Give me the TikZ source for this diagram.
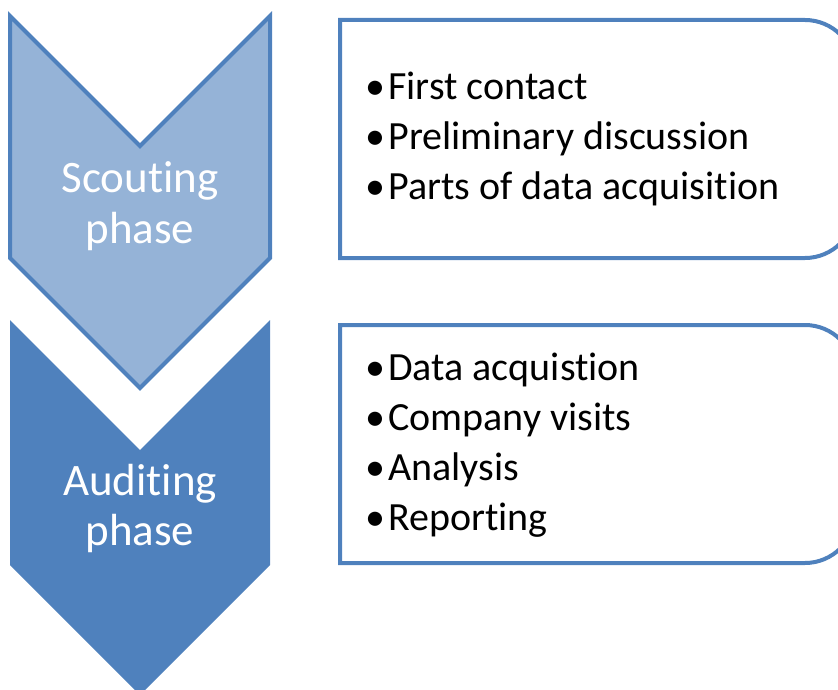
\documentclass[tikz,border=0pt]{standalone}
\usepackage{fontspec}
\setmainfont{Carlito}[Ligatures=CommonOff]
\usetikzlibrary{positioning}

\definecolor{phaseblue}{HTML}{4F81BD}
\definecolor{phaselight}{HTML}{95B3D7}

\begin{document}
\begin{tikzpicture}[x=0.5pt, y=-0.5pt,
  chevron/.style={draw=phaseblue, line width=2pt, line join=miter},
  phaselabel/.style={text=white, align=center, anchor=base, font=\fontsize{22.5}{25}\selectfont},
  listbox/.style={draw=phaseblue, line width=2pt},
  listtext/.style={align=left, anchor=base west, inner sep=0pt, font=\fontsize{20}{25}\selectfont}]
  \useasboundingbox (0,0) rectangle (838,689);

  % the two phase chevrons
  \draw[chevron, fill=phaselight] (10,16) -- (140,146) -- (270,16) -- (270,258) -- (140,388) -- (10,258) -- cycle;
  \fill[phaseblue] (10,320) -- (140,450) -- (270,320) -- (270,565) -- (140,695) -- (10,565) -- cycle;
  % labels sit on the baseline of their last line
  \node[phaselabel] (scouting) at (140,243) {Scouting\\phase};
  \node[phaselabel] (auditing) at (140,545) {Auditing\\phase};

  % task lists, rounded on the right side only
  \draw[listbox] (340,20) [rounded corners=25pt] -- (855,20) -- (855,258) [sharp corners] -- (340,258) -- cycle;
  \draw[listbox] (340,325) [rounded corners=25pt] -- (855,325) -- (855,563) [sharp corners] -- (340,563) -- cycle;
  \node[listtext] (scoutlist) at (365,200) {\textbullet\kern1.5pt First contact\\
    \textbullet\kern1.5pt Preliminary discussion\\
    \textbullet\kern1.5pt Parts of data acquisition};
  \node[listtext] (auditlist) at (365,530) {\textbullet\kern1.5pt Data acquistion\\
    \textbullet\kern1.5pt Company visits\\
    \textbullet\kern1.5pt Analysis\\
    \textbullet\kern1.5pt Reporting};
\end{tikzpicture}
\end{document}
